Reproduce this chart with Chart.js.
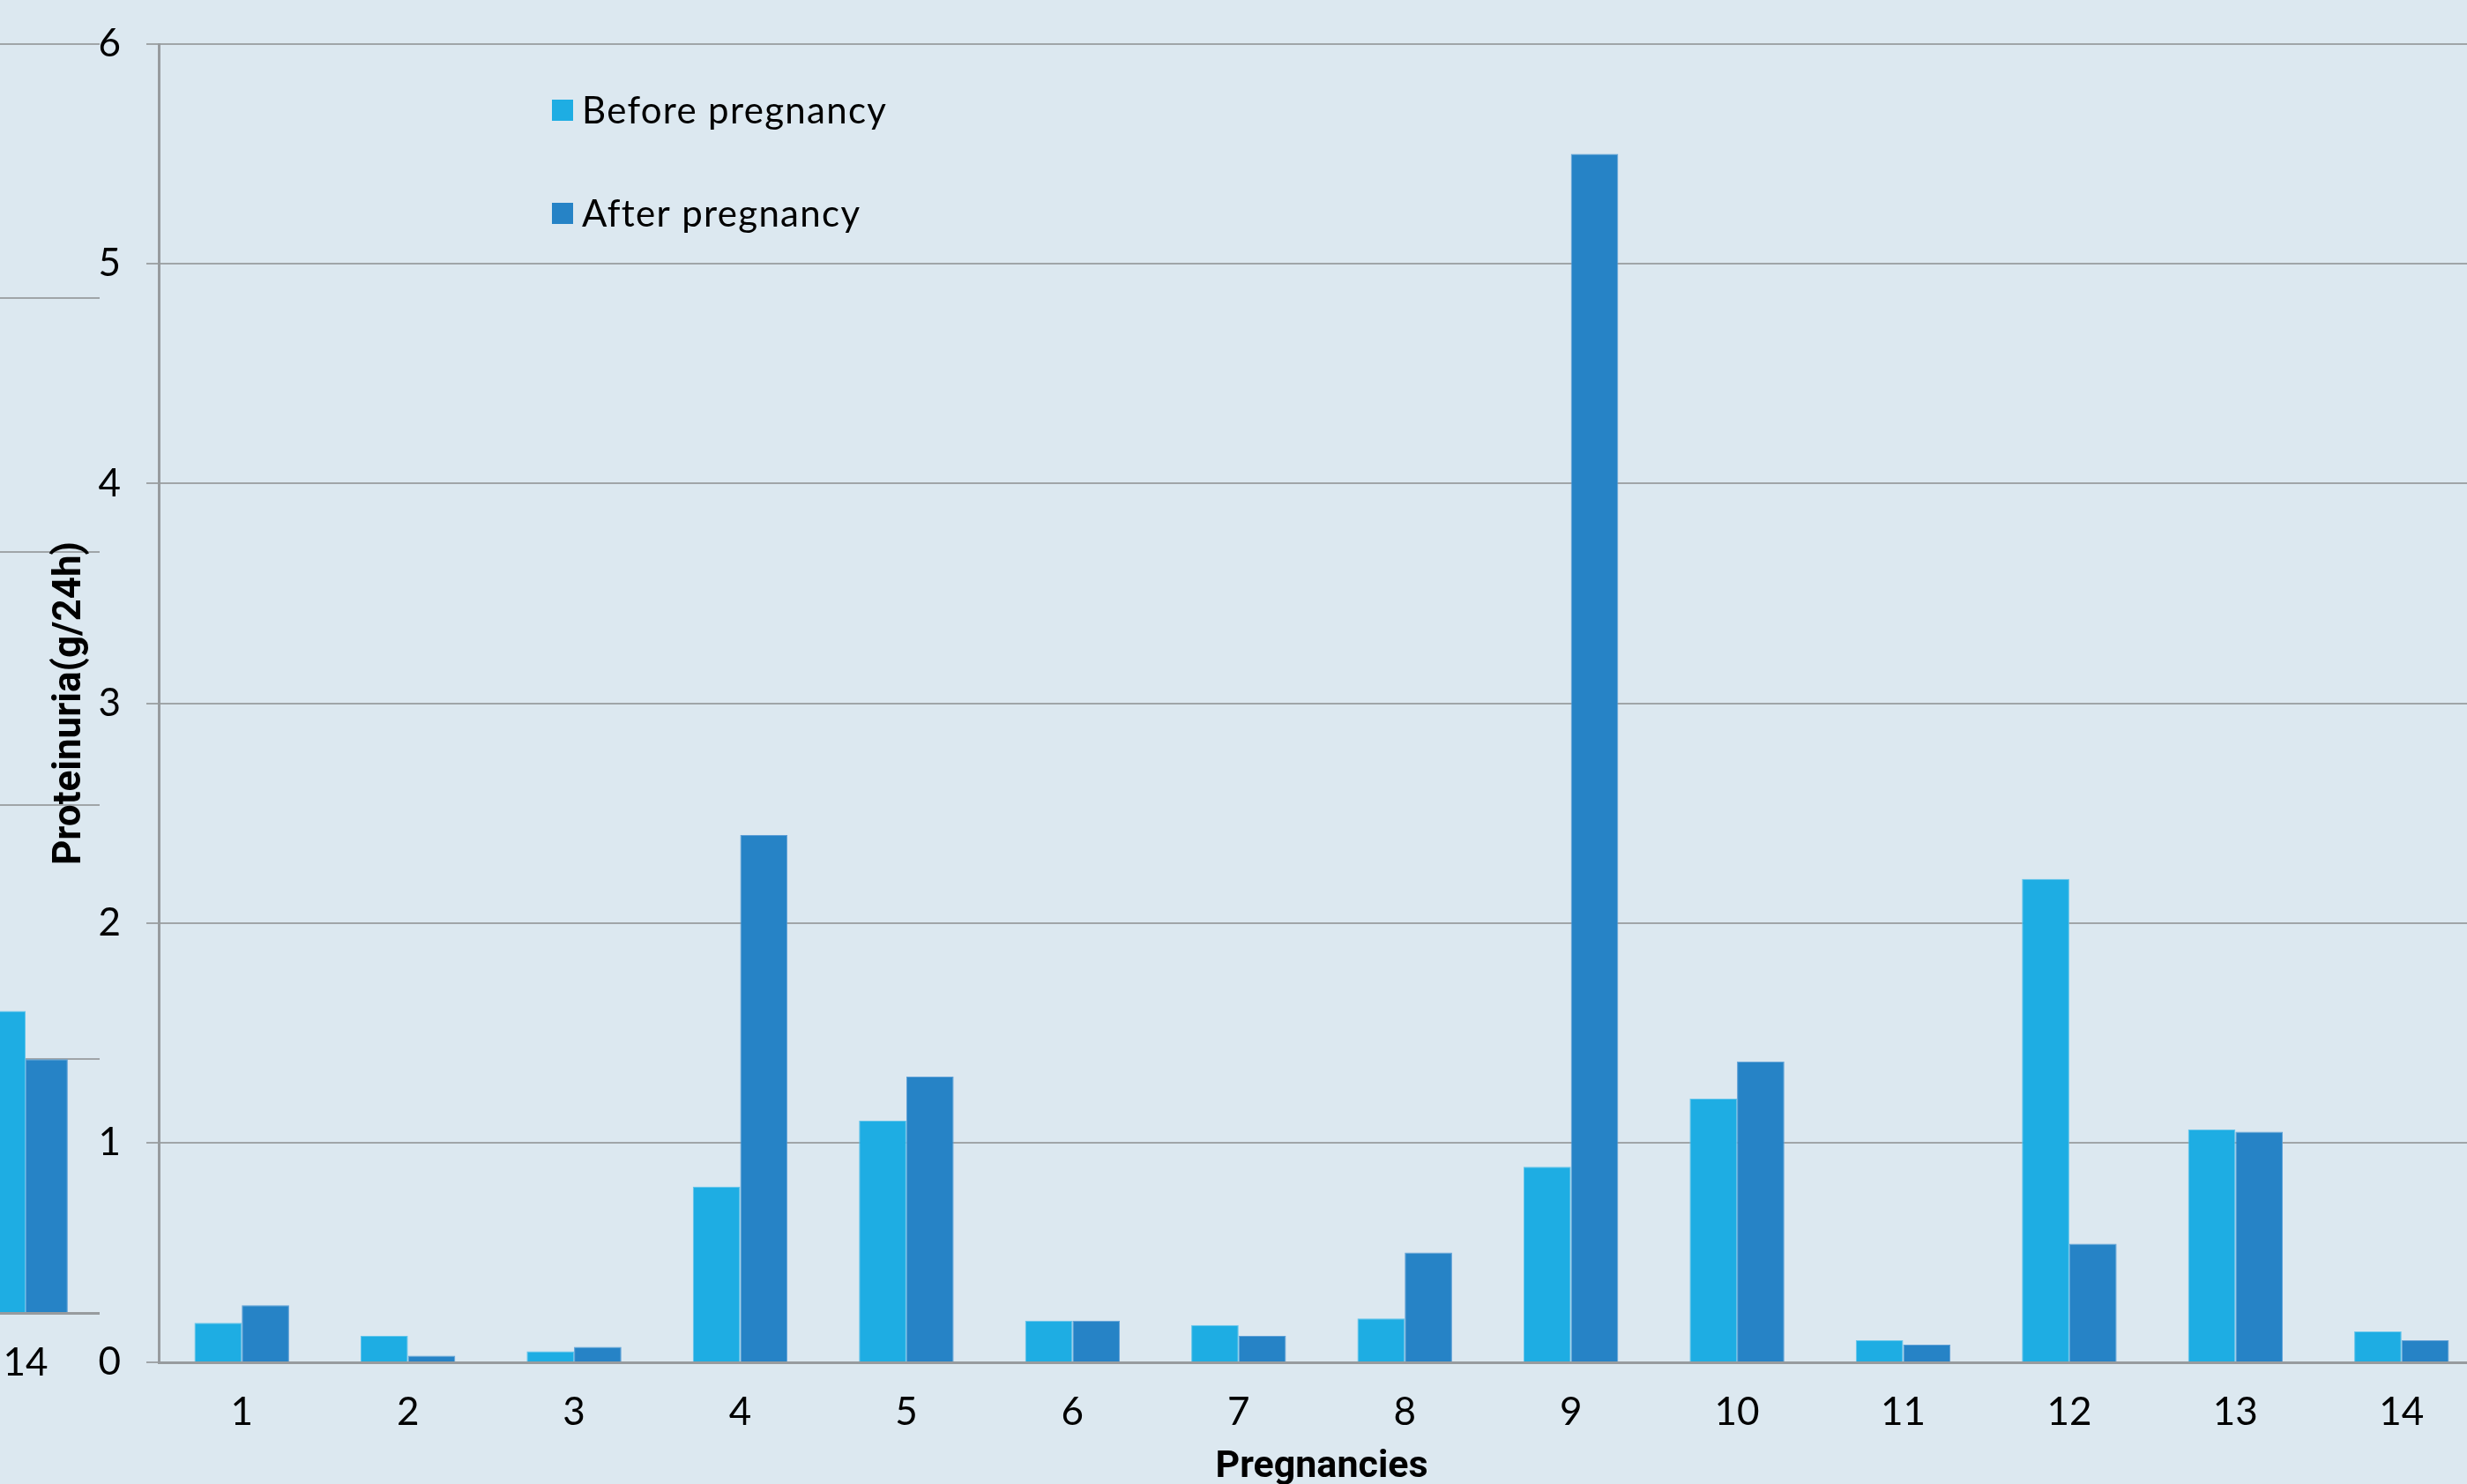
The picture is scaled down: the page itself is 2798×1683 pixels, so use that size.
<!DOCTYPE html>
<html>
<head>
<meta charset="utf-8">
<script src="https://cdn.jsdelivr.net/npm/chart.js@4.4.1/dist/chart.umd.min.js"></script>
<style>
  html, body { margin: 0; padding: 0; background: #dce8f0; overflow: hidden; width: 2798px; height: 1683px; }
  #side { position: absolute; left: -200px; top: 0; }
  #main { position: absolute; left: 0; top: 0; }
</style>
</head>
<body>
<canvas id="side" width="313" height="1700"></canvas>
<canvas id="main" width="2850" height="1700"></canvas>
<script>
// Proteinuria per pregnancy, before and after (g/24h)
const categories = ['1', '2', '3', '4', '5', '6', '7', '8', '9', '10', '11', '12', '13', '14'];
const beforePregnancy = [0.18, 0.12, 0.05, 0.80, 1.10, 0.19, 0.17, 0.20, 0.89, 1.20, 0.10, 2.20, 1.06, 0.14];
const afterPregnancy  = [0.26, 0.03, 0.07, 2.40, 1.30, 0.19, 0.12, 0.50, 5.50, 1.37, 0.08, 0.54, 1.05, 0.10];
const yMin = 0, yMax = 6, yStep = 1;

// Neighbouring panel: last category of the previous chart
const sideCategories = ['14'];
const sideBefore = [1.19];
const sideAfter = [1.00];
const sideMax = 5;

const seriesNames = ['Before pregnancy', 'After pregnancy'];
const BEFORE_COLOR = '#1eade3';
const AFTER_COLOR = '#2683c6';
const GRID_COLOR = '#a0a5a8';
const AXIS_COLOR = '#979b9e';
const TICK_FONT = { family: 'Lato', size: 44 };
const Y_TICK_FONT = { family: 'Lato', size: 44, lineHeight: 0.9 };
const TOP_PAD = 50;

Chart.defaults.font.family = 'Lato';
Chart.defaults.color = '#000';

// Legend drawn inside the plot area as a stacked list
const innerLegend = {
  id: 'innerLegend',
  afterDraw(chart) {
    const ctx = chart.ctx;
    ctx.save();
    ctx.font = '42px Lato';
    ctx.letterSpacing = '1.3px';
    ctx.textBaseline = 'middle';
    ctx.textAlign = 'left';
    chart.data.datasets.forEach((ds, i) => {
      const cy = 125 + i * 117;
      ctx.fillStyle = ds.backgroundColor;
      ctx.fillRect(626, cy - 12, 24, 24);
      ctx.fillStyle = '#000';
      ctx.fillText(ds.label, 660, cy + 1);
    });
    ctx.restore();
  }
};

const barStyle = {
  barPercentage: 1.0,
  categoryPercentage: 0.57,
  borderWidth: 1,
  borderSkipped: 'bottom'
};

new Chart(document.getElementById('main'), {
  type: 'bar',
  data: {
    labels: categories,
    datasets: [
      { label: seriesNames[0], data: beforePregnancy, backgroundColor: BEFORE_COLOR, borderColor: '#62c4ea', ...barStyle },
      { label: seriesNames[1], data: afterPregnancy, backgroundColor: AFTER_COLOR, borderColor: '#5e9fd6', ...barStyle }
    ]
  },
  options: {
    responsive: false,
    animation: false,
    devicePixelRatio: 1,
    layout: { padding: { top: TOP_PAD, left: 0, right: 32, bottom: 0 } },
    plugins: { legend: { display: false }, title: { display: false }, tooltip: { enabled: false } },
    scales: {
      x: {
        grid: { display: false, drawTicks: false },
        border: { display: true, color: AXIS_COLOR, width: 3 },
        ticks: { font: TICK_FONT, color: '#000', padding: 30, maxRotation: 0 },
        title: { display: true, text: 'Pregnancies', font: { family: 'Roboto', size: 43, weight: 'bold' }, color: '#000', padding: { top: 0, bottom: 10 } },
        afterFit(scale) { scale.height = 155; }
      },
      y: {
        min: yMin, max: yMax,
        grid: { color: GRID_COLOR, lineWidth: 2, drawTicks: true, tickLength: 14 },
        border: { display: true, color: AXIS_COLOR, width: 3 },
        ticks: { stepSize: yStep, font: Y_TICK_FONT, color: '#000', padding: 29 },
        title: { display: true, text: 'Proteinuria(g/24h)', font: { family: 'Roboto', size: 44, weight: 'bold' }, color: '#000', padding: { top: 54, bottom: 0 } },
        afterFit(scale) { scale.width = 180; }
      }
    }
  },
  plugins: [innerLegend]
});

new Chart(document.getElementById('side'), {
  type: 'bar',
  data: {
    labels: sideCategories,
    datasets: [
      { label: seriesNames[0], data: sideBefore, backgroundColor: BEFORE_COLOR, borderColor: '#62c4ea', ...barStyle },
      { label: seriesNames[1], data: sideAfter, backgroundColor: AFTER_COLOR, borderColor: '#5e9fd6', ...barStyle }
    ]
  },
  options: {
    responsive: false,
    animation: false,
    devicePixelRatio: 1,
    layout: { padding: { top: TOP_PAD, left: 0, right: 0, bottom: 0 } },
    plugins: { legend: { display: false }, title: { display: false }, tooltip: { enabled: false } },
    scales: {
      x: {
        grid: { display: false, drawTicks: false },
        border: { display: true, color: AXIS_COLOR, width: 3 },
        ticks: { font: TICK_FONT, color: '#000', padding: 30, maxRotation: 0 },
        afterFit(scale) { scale.height = 211; }
      },
      y: {
        min: 0, max: sideMax,
        grid: { color: GRID_COLOR, lineWidth: 2, drawTicks: false },
        border: { display: false },
        ticks: { display: false, stepSize: 1, padding: 0, font: Y_TICK_FONT },
        afterFit(scale) { scale.width = 145; }
      }
    }
  }
});
</script>
</body>
</html>
